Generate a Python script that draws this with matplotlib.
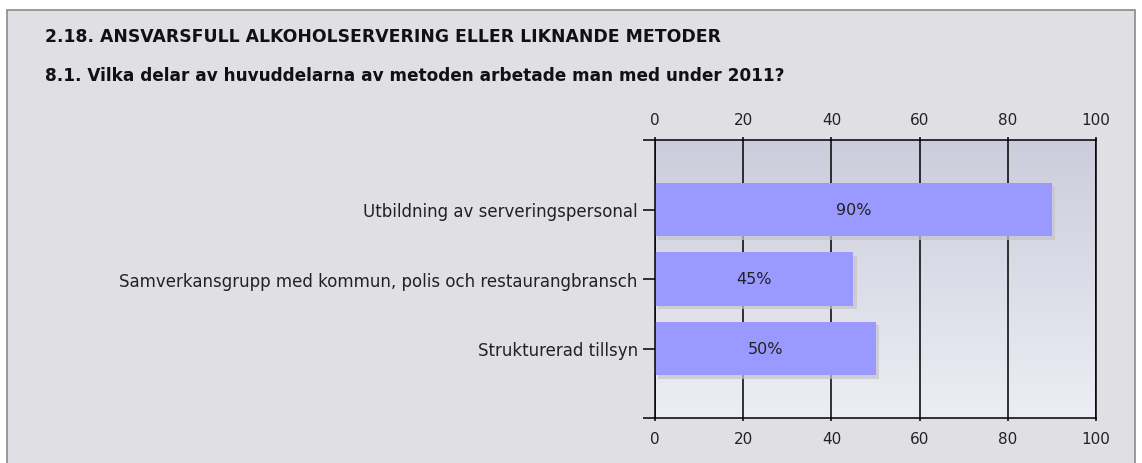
import numpy as np
import matplotlib.pyplot as plt
from matplotlib.patches import Rectangle
import matplotlib.patheffects as pe

# ---------------- data ----------------
title_main = "2.18. ANSVARSFULL ALKOHOLSERVERING ELLER LIKNANDE METODER"
title_sub = "8.1. Vilka delar av huvuddelarna av metoden arbetade man med under 2011?"
categories = ["Utbildning av serveringspersonal",
              "Samverkansgrupp med kommun, polis och restaurangbransch",
              "Strukturerad tillsyn"]
values = [90, 45, 50]
xticks = [0, 20, 40, 60, 80, 100]

BAR = "#9999ff"
TXT = "#222222"

fig = plt.figure(figsize=(11.42, 4.64), dpi=100)
fig.patch.set_facecolor("white")

# panel background with grey border
panel = Rectangle((7 / 1142, -0.05), 1128 / 1142, 1 - 11 / 464 + 0.05,
                  transform=fig.transFigure, facecolor="#e0dfe4",
                  edgecolor="#8a8a8a", linewidth=1.2, zorder=-10)
fig.patches.append(panel)

fig.text(45 / 1142, 1 - 37 / 464, title_main, fontsize=12.4, fontweight="bold",
         color="#111111", va="center", ha="left")
fig.text(45 / 1142, 1 - 76 / 464, title_sub, fontsize=12.2, fontweight="bold",
         color="#111111", va="center", ha="left")

ax = fig.add_axes([655 / 1142, 1 - 419 / 464, 441 / 1142, 278 / 464])
ax.set_xlim(0, 100)
ax.set_ylim(3, -1)

# gradient plot background
grad = np.linspace(0, 1, 256).reshape(-1, 1)
top = np.array([0.800, 0.800, 0.863])
bot = np.array([0.930, 0.930, 0.960])
img = top + (bot - top) * grad[..., None]
ax.imshow(img, extent=[0, 100, 3, -1], aspect="auto", zorder=0)

# grid
for x in xticks:
    ax.axvline(x, color="black", lw=1.1, zorder=1)

ypos = np.arange(len(categories))
bars = ax.barh(ypos, values, height=0.77, color=BAR, zorder=2)
for b in bars:
    b.set_path_effects([pe.SimplePatchShadow(offset=(2.5, -2.5), shadow_rgbFace="#c4c4cc", alpha=0.7),
                        pe.Normal()])

for y, v in zip(ypos, values):
    ax.text(v / 2, y, f"{v}%", ha="center", va="center", fontsize=11.5, color=TXT, zorder=3)

ax.set_yticks(ypos)
ax.set_yticklabels(categories, fontsize=12, color=TXT)
ax.set_yticks([-1, 3], minor=True)
ax.tick_params(axis="y", which="both", length=9, width=1.1, color="black", pad=3.5)

ax.set_xticks(xticks)
ax.set_xticklabels([str(x) for x in xticks])
ax.tick_params(axis="x", which="major", top=True, labeltop=True, bottom=True, labelbottom=True,
               length=2.5, width=1.1, labelsize=11, labelcolor=TXT, pad=7)

for s in ax.spines.values():
    s.set_color("black")
    s.set_linewidth(1.1)

fig.savefig("out.png", dpi=100)
